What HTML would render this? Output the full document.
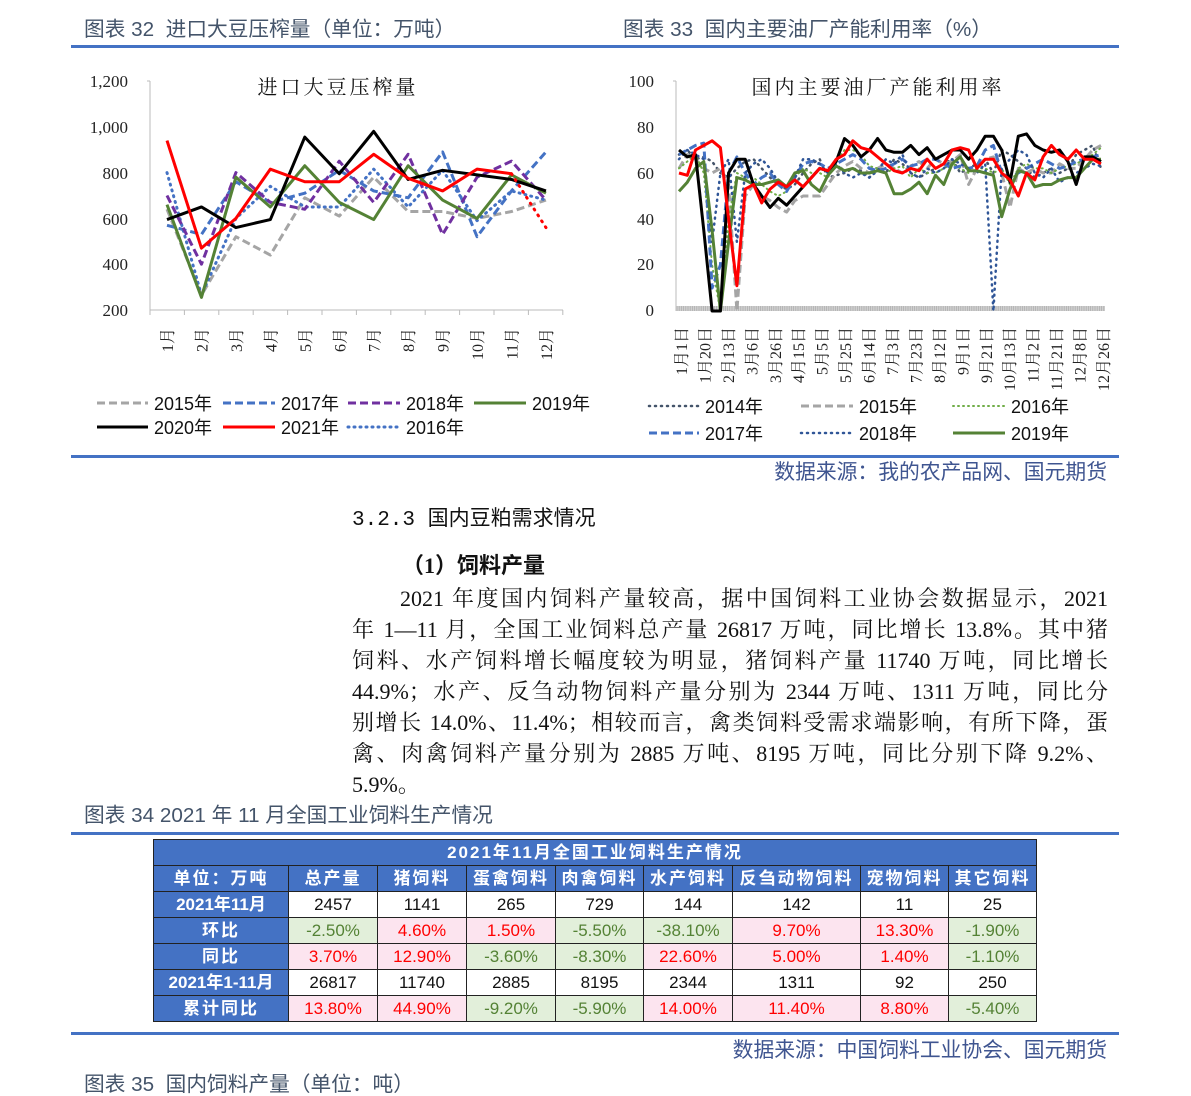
<!DOCTYPE html>
<html><head><meta charset="utf-8">
<style>
html,body{margin:0;padding:0;background:#fff;}
body{width:1191px;height:1083px;position:relative;overflow:hidden;font-family:"Liberation Sans","Noto Sans CJK SC",sans-serif;}
.cap{position:absolute;color:#44546a;font-size:20.7px;white-space:nowrap;line-height:1;}
.src{position:absolute;color:#3f5590;font-size:20.8px;white-space:nowrap;line-height:1;}
.hl{position:absolute;height:3px;background:#4472c4;}
.body{position:absolute;font-family:"Liberation Serif","Noto Serif CJK SC",serif;font-size:22px;color:#111;white-space:nowrap;line-height:1;}
.jl{text-align:justify;text-align-last:justify;}
table{position:absolute;left:153px;top:839px;border-collapse:collapse;font-family:"Liberation Sans","Noto Sans CJK SC",sans-serif;table-layout:fixed;}
td{border:1px solid #222;padding:0;text-align:center;font-size:17px;height:25px;line-height:24px;overflow:hidden;white-space:nowrap;}
td.h{background:#4472c4;color:#fff;font-weight:bold;letter-spacing:2px;}
td.w{background:#fff;color:#111;}
td.g{background:#e2efda;color:#548235;}
td.p{background:#fce4ef;color:#ff0000;}
</style></head><body>

<div class="cap" style="left:84px;top:20px;">图表 32&nbsp; 进口大豆压榨量（单位：万吨）</div>
<div class="cap" style="left:623px;top:20px;">图表 33&nbsp; 国内主要油厂产能利用率（%）</div>
<div class="hl" style="left:71px;top:45px;width:1048px;"></div>

<svg id="c1" style="position:absolute;left:0;top:0" width="1191" height="460">
 <g font-family="Liberation Serif, Noto Serif CJK SC, serif" font-size="17" fill="#222" text-anchor="end">
  <text x="128" y="87">1,200</text><text x="128" y="133">1,000</text><text x="128" y="179">800</text>
  <text x="128" y="225">600</text><text x="128" y="270">400</text><text x="128" y="316">200</text>
  <text x="654" y="87">100</text><text x="654" y="133">80</text><text x="654" y="179">60</text>
  <text x="654" y="225">40</text><text x="654" y="270">20</text><text x="654" y="316">0</text>
 </g>
 <text x="338" y="94" text-anchor="middle" font-family="Liberation Serif, Noto Serif CJK SC, serif" font-size="20" letter-spacing="3" fill="#111">进口大豆压榨量</text>
 <text x="878" y="94" text-anchor="middle" font-family="Liberation Serif, Noto Serif CJK SC, serif" font-size="20" letter-spacing="3" fill="#111">国内主要油厂产能利用率</text>
 <g id="g1"></g><g id="g2"></g><g id="lab1"></g><g id="lab2"></g><g id="leg"></g>
</svg>

<div class="hl" style="left:71px;top:455px;width:1048px;"></div>
<div class="src" style="right:84px;top:463px;">数据来源：我的农产品网、国元期货</div>

<div class="body" style="left:352px;top:510px;font-family:'Liberation Mono','Noto Sans CJK SC',sans-serif;font-size:21px;">3.2.3 国内豆粕需求情况</div>
<div class="body" style="left:402px;top:555px;font-family:'Liberation Serif','Noto Sans CJK SC',sans-serif;font-size:22px;font-weight:bold;">（1）饲料产量</div>
<div class="body jl" style="left:400px;top:588px;width:708px;">2021 年度国内饲料产量较高，据中国饲料工业协会数据显示，2021</div>
<div class="body jl" style="left:352px;top:619px;width:756px;">年 1—11 月，全国工业饲料总产量 26817 万吨，同比增长 13.8%。其中猪</div>
<div class="body jl" style="left:352px;top:650px;width:756px;">饲料、水产饲料增长幅度较为明显，猪饲料产量 11740 万吨，同比增长</div>
<div class="body jl" style="left:352px;top:681px;width:756px;">44.9%；水产、反刍动物饲料产量分别为 2344 万吨、1311 万吨，同比分</div>
<div class="body jl" style="left:352px;top:712px;width:756px;">别增长 14.0%、11.4%；相较而言，禽类饲料受需求端影响，有所下降，蛋</div>
<div class="body jl" style="left:352px;top:743px;width:756px;">禽、肉禽饲料产量分别为 2885 万吨、8195 万吨，同比分别下降 9.2%、</div>
<div class="body" style="left:352px;top:774px;">5.9%。</div>

<div class="cap" style="left:84px;top:806px;">图表 34 2021 年 11 月全国工业饲料生产情况</div>
<div class="hl" style="left:71px;top:832px;width:1048px;"></div>

<table>
<colgroup><col style="width:135px"><col style="width:89px"><col style="width:89px"><col style="width:89px"><col style="width:88px"><col style="width:89px"><col style="width:128px"><col style="width:88px"><col style="width:88px"></colgroup>
<tr><td class="h" colspan="9" style="height:25px;">2021年11月全国工业饲料生产情况</td></tr>
<tr><td class="h">单位：万吨</td><td class="h">总产量</td><td class="h">猪饲料</td><td class="h">蛋禽饲料</td><td class="h">肉禽饲料</td><td class="h">水产饲料</td><td class="h">反刍动物饲料</td><td class="h">宠物饲料</td><td class="h">其它饲料</td></tr>
<tr><td class="h" style="letter-spacing:0">2021年11月</td><td class="w">2457</td><td class="w">1141</td><td class="w">265</td><td class="w">729</td><td class="w">144</td><td class="w">142</td><td class="w">11</td><td class="w">25</td></tr>
<tr><td class="h">环比</td><td class="g">-2.50%</td><td class="p">4.60%</td><td class="p">1.50%</td><td class="g">-5.50%</td><td class="g">-38.10%</td><td class="p">9.70%</td><td class="p">13.30%</td><td class="g">-1.90%</td></tr>
<tr><td class="h">同比</td><td class="p">3.70%</td><td class="p">12.90%</td><td class="g">-3.60%</td><td class="g">-8.30%</td><td class="p">22.60%</td><td class="p">5.00%</td><td class="p">1.40%</td><td class="g">-1.10%</td></tr>
<tr><td class="h" style="letter-spacing:0">2021年1-11月</td><td class="w">26817</td><td class="w">11740</td><td class="w">2885</td><td class="w">8195</td><td class="w">2344</td><td class="w">1311</td><td class="w">92</td><td class="w">250</td></tr>
<tr><td class="h">累计同比</td><td class="p">13.80%</td><td class="p">44.90%</td><td class="g">-9.20%</td><td class="g">-5.90%</td><td class="p">14.00%</td><td class="p">11.40%</td><td class="p">8.80%</td><td class="g">-5.40%</td></tr>
</table>

<div class="hl" style="left:71px;top:1032px;width:1048px;"></div>
<div class="src" style="right:84px;top:1041px;">数据来源：中国饲料工业协会、国元期货</div>
<div class="cap" style="left:84px;top:1075px;">图表 35&nbsp; 国内饲料产量（单位：吨）</div>

<script>
var NS="http://www.w3.org/2000/svg";
function el(p,t,a){var e=document.createElementNS(NS,t);for(var k in a)e.setAttribute(k,a[k]);p.appendChild(e);return e;}
var g1=document.getElementById('g1'),g2=document.getElementById('g2'),l1=document.getElementById('lab1'),l2=document.getElementById('lab2'),lg=document.getElementById('leg');
el(g1,'line',{x1:150,y1:81,x2:150,y2:310,stroke:'#bbb','stroke-width':1});
el(g1,'line',{x1:147,y1:81,x2:150,y2:81,stroke:'#bbb'});
el(g1,'line',{x1:150,y1:310,x2:563,y2:310,stroke:'#bbb','stroke-width':1});
for(var i=0;i<=12;i++){var x=150+i*34.4;el(g1,'line',{x1:x,y1:310,x2:x,y2:315,stroke:'#bbb'});}
function X1(i){return 167+i*34.45;}function Y1(v){return 310-(v-200)*0.229;}
function poly(g,pts,st){return el(g,'polyline',Object.assign({points:pts.join(' '),fill:'none','stroke-linejoin':'round'},st));}
function ser1(d,st){var p=[];d.forEach(function(v,i){if(v!=null)p.push(X1(i)+','+Y1(v));});poly(g1,p,st);}
var S={
 s15:{stroke:'#a5a5a5','stroke-width':3,'stroke-dasharray':'8,4'},
 s17:{stroke:'#4472c4','stroke-width':3,'stroke-dasharray':'8,4'},
 s18:{stroke:'#7030a0','stroke-width':3,'stroke-dasharray':'8,4'},
 s19:{stroke:'#548235','stroke-width':3},
 s20:{stroke:'#000','stroke-width':3},
 s21:{stroke:'#ff0000','stroke-width':3},
 s16:{stroke:'#4472c4','stroke-width':3,'stroke-dasharray':'1,5','stroke-linecap':'round'}
};
ser1([640,265,520,440,690,610,780,630,630,600,630,680],S.s15);
ser1([800,265,600,740,650,650,815,650,810,590,720,680],S.s16);
ser1([570,530,760,670,710,810,720,690,890,520,720,890],S.s17);
ser1([700,400,800,670,640,850,670,880,530,780,850,680],S.s18);
ser1([660,255,780,650,830,670,595,830,680,600,790,710],S.s19);
ser1([595,650,560,595,955,795,980,770,810,790,770,720],S.s20);
ser1([940,470,600,815,760,760,880,775,720,815,795],S.s21);
poly(g1,[X1(10)+','+Y1(795),X1(11)+','+Y1(560)],{stroke:'#ff0000','stroke-width':3,'stroke-dasharray':'1,6','stroke-linecap':'round'});
for(var i=0;i<12;i++){var t=el(l1,'text',{x:0,y:0,transform:'translate('+(X1(i)+6)+',328) rotate(-90)','text-anchor':'end','font-family':'Liberation Serif, Noto Serif CJK SC, serif','font-size':16,fill:'#222'});t.textContent=(i+1)+'月';}
el(g2,'line',{x1:676,y1:81,x2:676,y2:311,stroke:'#bbb'});
el(g2,'line',{x1:673,y1:81,x2:676,y2:81,stroke:'#bbb'});
el(g2,'rect',{x:676,y:306,width:429,height:5,fill:'#d0d0d0'});
for(var x=677;x<1105;x+=2.2)el(g2,'line',{x1:x,y1:306,x2:x,y2:311,stroke:'#aaa','stroke-width':0.7});
function X2(i){return 679+i*(1101-679)/51;}function Y2(v){return 311-v*2.3;}
function ser2(d,st){var p=[];d.forEach(function(v,i){if(v!=null)p.push(X2(i).toFixed(1)+','+Y2(v).toFixed(1));});poly(g2,p,st);}
var T={
 t14:{stroke:'#44546a','stroke-width':2.5,'stroke-dasharray':'1,5','stroke-linecap':'round'},
 t15:{stroke:'#a5a5a5','stroke-width':3,'stroke-dasharray':'8,4'},
 t16:{stroke:'#70ad47','stroke-width':2,'stroke-dasharray':'1,4','stroke-linecap':'round'},
 t17:{stroke:'#4472c4','stroke-width':3,'stroke-dasharray':'8,4'},
 t18:{stroke:'#2f5597','stroke-width':2.5,'stroke-dasharray':'1,5','stroke-linecap':'round'},
 t19:{stroke:'#548235','stroke-width':3}
};
ser2([68,70,66,67,65,60,58,62,65,66,62,58,55,53,55,60,64,66,58,59,60,62,61,58,62,60,66,64,60,58,60,62,64,66,60,62,64,66,60,70,68,65,62,58,60,62,60,62,68,70,72,62],T.t14);
ser2([62,68,66,62,60,62,55,0,50,55,50,48,45,43,48,50,50,50,55,60,63,65,62,60,62,64,62,60,63,65,62,66,64,65,68,55,62,66,67,60,45,62,60,62,60,60,64,62,62,66,70,72],T.t15);
ser2([62,65,68,60,20,0,40,60,58,58,55,52,50,52,58,62,60,60,58,65,70,70,68,63,62,60,62,63,58,62,60,60,62,64,62,60,62,62,60,62,55,62,64,62,62,60,62,63,64,66,68,71],T.t16);
ser2([68,70,72,73,10,20,60,67,60,55,58,60,55,52,58,64,65,64,62,64,66,68,66,62,61,62,64,66,63,64,66,66,64,62,63,62,63,70,72,60,58,60,62,64,66,64,62,63,65,66,67,68],T.t17);
ser2([66,70,68,66,30,60,66,30,60,64,66,62,56,54,58,66,66,64,60,64,60,58,60,58,61,66,64,68,60,58,62,60,62,66,64,62,60,64,0,62,66,70,68,60,58,62,56,58,60,62,64,63],T.t18);
ser2([52,56,62,65,35,0,30,58,57,55,55,56,57,54,60,61,55,52,59,63,61,62,60,60,61,60,51,51,53,56,51,59,55,64,67,61,61,60,59,41,53,61,60,54,55,55,57,58,58,62,66,66],T.t19);
ser2([70,67,68,35,0,0,60,66,66,55,50,45,49,46,50,54,58,62,61,65,75,72,67,70,75,70,69,69,72,68,71,66,68,70,70,66,70,76,76,70,56,76,77,72,70,69,70,65,55,67,67,65],{stroke:'#000','stroke-width':3});
ser2([60,59,70,72,74,71,40,11,53,55,47,53,56,54,57,54,58,62,61,66,68,74,71,70,67,64,61,60,62,61,66,62,64,70,71,70,62,66,66,60,57,50,60,57,67,72,68,66,70,66,66,64],{stroke:'#ff0000','stroke-width':3});
var L2=['1月1日','1月20日','2月13日','3月6日','3月26日','4月15日','5月5日','5月25日','6月14日','7月3日','7月23日','8月12日','9月1日','9月21日','10月13日','11月2日','11月21日','12月8日','12月26日'];
L2.forEach(function(s,i){var x=681+i*(1101-679)/18;var t=el(l2,'text',{x:0,y:0,transform:'translate('+(x+6)+',327) rotate(-90)','text-anchor':'end','font-family':'Liberation Serif, Noto Serif CJK SC, serif','font-size':16,fill:'#222'});t.textContent=s;});
function leg(x1,x2,y,st,label){el(lg,'line',Object.assign({x1:x1,y1:y,x2:x2,y2:y},st));var t=el(lg,'text',{x:x2+6,y:y+7,'font-family':'Liberation Sans, Noto Sans CJK SC, sans-serif','font-size':18,fill:'#111'});t.textContent=label;}
leg(97,148,403,S.s15,'2015年');leg(223,275,403,S.s17,'2017年');leg(348,400,403,S.s18,'2018年');leg(474,526,403,S.s19,'2019年');
leg(97,148,427,S.s20,'2020年');leg(223,275,427,S.s21,'2021年');leg(348,400,427,S.s16,'2016年');
leg(649,699,406,T.t14,'2014年');leg(801,853,406,T.t15,'2015年');leg(953,1005,406,T.t16,'2016年');
leg(649,699,433,T.t17,'2017年');leg(801,853,433,T.t18,'2018年');leg(953,1005,433,T.t19,'2019年');
</script>
</body></html>
